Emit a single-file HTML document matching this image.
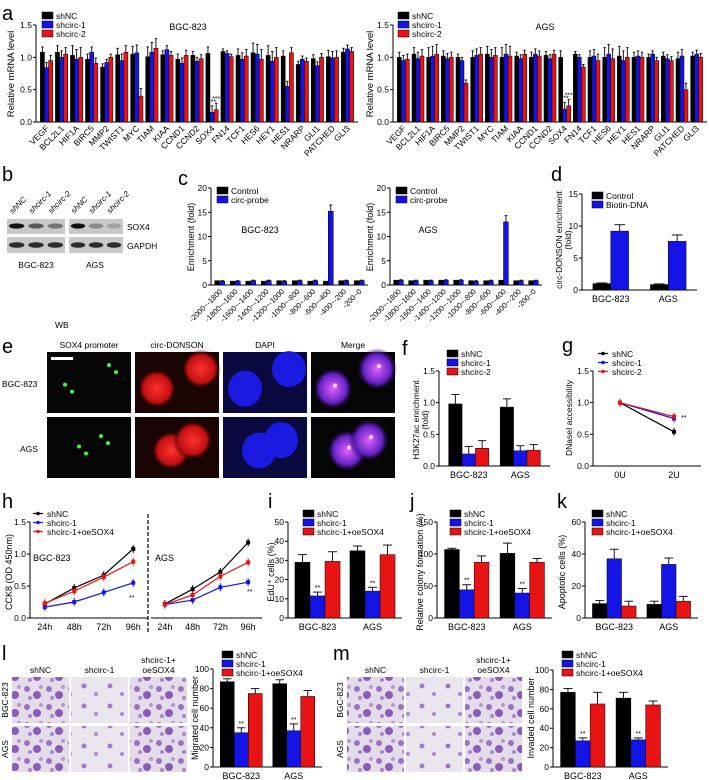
<!DOCTYPE html>
<html><head><meta charset="utf-8"><style>
body{margin:0;background:#fff;}
svg{display:block;font-family:"Liberation Sans",Arial,sans-serif;}
</style></head><body>
<svg id="fig" width="709" height="780" viewBox="0 0 709 780" xmlns="http://www.w3.org/2000/svg">
<defs>
<pattern id="stain" width="22" height="18" patternUnits="userSpaceOnUse">
<rect width="22" height="18" fill="#e4dde9"/>
<circle cx="5" cy="5" r="3" fill="#9a72c4"/><circle cx="15" cy="11" r="4" fill="#8a5cba"/><circle cx="8" cy="14" r="2" fill="#a987cc"/><circle cx="19" cy="3" r="2" fill="#b59ad2"/>
</pattern>
<pattern id="stainLight" width="26" height="20" patternUnits="userSpaceOnUse">
<rect width="26" height="20" fill="#ebe6ee"/>
<circle cx="6" cy="6" r="2.5" fill="#9f7ac8"/><circle cx="18" cy="14" r="2" fill="#a98bcf"/>
</pattern>
<radialGradient id="redBlob"><stop offset="0" stop-color="#ff3030"/><stop offset="0.7" stop-color="#c01010"/><stop offset="1" stop-color="#000" stop-opacity="0"/></radialGradient>
<radialGradient id="mergeBlob"><stop offset="0" stop-color="#e060ff"/><stop offset="0.7" stop-color="#6020c0"/><stop offset="1" stop-color="#100030" stop-opacity="0"/></radialGradient>
</defs>
</svg>
<script>
// ===== data =====
const aCats=["VEGF","BCL2L1","HIF1A","BIRC5","MMP2","TWIST1","MYC","TIAM","KIAA","CCND1","CCND2","SOX4","FN14","TCF1","HES6","HEY1","HES1","NRARP","GLI1","PATCHED","GLI3"];
const aBgcNC=[1.08,1.08,1.03,0.97,0.85,1.04,1.05,1.01,1.04,0.97,1.03,1.06,1.09,1.03,1.07,1.03,1.02,0.89,0.98,1.01,1.08];
const aBgcS1=[0.84,1.00,0.97,1.08,0.92,0.95,1.07,1.08,1.12,0.91,0.94,0.15,1.06,0.97,1.05,0.94,0.55,0.97,0.87,0.99,1.13];
const aBgcS2=[0.95,1.05,1.00,0.91,1.00,1.08,0.40,1.14,1.03,1.03,0.98,0.19,1.01,1.02,0.97,1.00,1.07,0.94,1.00,1.00,1.09];
const aAgsNC=[1.00,1.05,1.00,1.02,1.00,1.00,1.05,1.00,1.02,1.00,1.03,1.00,1.05,1.00,1.00,1.02,1.00,1.00,1.02,0.98,1.02];
const aAgsS1=[0.95,0.98,1.02,0.98,0.95,1.03,1.00,1.05,0.98,1.05,0.98,0.20,1.00,1.02,1.05,0.95,1.02,1.05,0.98,1.02,1.05];
const aAgsS2=[0.97,1.02,1.05,1.00,0.60,1.05,1.03,1.02,1.05,1.02,1.05,0.25,0.85,0.95,0.98,1.00,1.00,0.95,0.95,0.50,1.00];
const aErr=[0.08,0.1,0.15,0.08,0.05,0.1,0.12,0.15,0.06,0.08,0.06,0.1,0.04,0.1,0.15,0.15,0.08,0.05,0.06,0.1,0.06];
const aTicks=[0,0.5,1.0,1.5];
const cCats=["-2000~-1800","-1800~-1600","-1600~-1400","-1400~-1200","-1200~-1000","-1000~-800","-800~-600","-600~-400","-400~-200","-200~0"];
const cBgcCtrl=[0.9,0.8,0.8,0.8,0.9,0.9,0.8,0.8,0.9,0.9];
const cBgcProbe=[0.8,0.8,0.9,0.9,0.8,0.9,0.9,15.2,0.9,0.9];
const cAgsCtrl=[1.0,0.9,1.0,1.0,1.0,0.9,0.9,1.0,0.9,0.9];
const cAgsProbe=[1.0,0.9,0.9,1.0,1.0,0.8,0.9,13.0,0.9,0.9];
const cTicks=[0,5,10,15,20];
const grpCats=["BGC-823","AGS"];
const dCtrl=[1.0,0.85], dBio=[9.2,7.6], dCtrlE=[0.1,0.1], dBioE=[1.0,1.0];
const dTicks=[0,5,10,15];
const fNC=[0.98,0.93], fS1=[0.19,0.24], fS2=[0.28,0.25], fNCE=[0.15,0.13], fS1E=[0.12,0.08], fS2E=[0.12,0.09];
const fTicks=[0,0.5,1.0,1.5];
const gCats=["0U","2U"];
const gNC=[1.0,0.54], gS1=[1.0,0.75], gS2=[1.0,0.78];
const hCats=["24h","48h","72h","96h"];
const hBgcNC=[0.22,0.47,0.67,1.08], hBgcS1=[0.17,0.25,0.40,0.55], hBgcOE=[0.23,0.42,0.64,0.88];
const hAgsNC=[0.22,0.45,0.72,1.18], hAgsS1=[0.21,0.28,0.48,0.56], hAgsOE=[0.21,0.36,0.65,0.87];
const hTicks=[0,0.5,1.0,1.5];
const iNC=[29,35], iS1=[11.5,14], iOE=[29.5,33], iTicks=[0,10,20,30,40,50];
const jNC=[107,101], jS1=[44,39], jOE=[87,87], jTicks=[0,50,100,150];
const kNC=[9,8.5], kS1=[37,33.5], kOE=[7.5,10.5], kTicks=[0,20,40,60];
const lNC=[87,85], lS1=[35,37], lOE=[75,72], lTicks=[0,20,40,60,80,100];
const mNC=[77,71], mS1=[27,28], mOE=[65,64], mTicks=[0,20,40,60,80,100];

const BLK="#000", BLU="#1414e6", RED="#e81414";
const NS="http://www.w3.org/2000/svg";
const svg=document.getElementById("fig");
function mk(tag,attrs,parent){const e=document.createElementNS(NS,tag);for(const k in attrs)e.setAttribute(k,attrs[k]);(parent||svg).appendChild(e);return e;}
function txt(x,y,s,size,anchor,name,rot){
  const t=mk("text",{x:x,y:y,"font-size":size,"text-anchor":anchor||"start",fill:"#000"});
  if(rot!==undefined)t.setAttribute("transform","rotate("+rot+" "+x+" "+y+")");
  t.textContent=s;
  
  
  return t;
}
function axisY(x,yTop,yBot,ticks,max,fmt,name){
  const g=mk("g",{});
  
  
  mk("line",{x1:x,y1:yTop,x2:x,y2:yBot,stroke:"#000","stroke-width":1},g);
  ticks.forEach(v=>{const y=yBot-(v/max)*(yBot-yTop);
    mk("line",{x1:x-3,y1:y,x2:x,y2:y,stroke:"#000"},g);
    const t=mk("text",{x:x-4,y:y+3,"font-size":8.5,"text-anchor":"end"},g);t.textContent=fmt(v);});
  return g;
}
function legend(x,y,labels,colors,name,line){
  const g=mk("g",{});
  
  
  labels.forEach((l,i)=>{const yy=y+i*9;
    if(line){mk("line",{x1:x,y1:yy+3.5,x2:x+10,y2:yy+3.5,stroke:colors[i],"stroke-width":1.2},g);mk("circle",{cx:x+5,cy:yy+3.5,r:1.8,fill:colors[i]},g);}
    else mk("rect",{x:x,y:yy,width:11,height:7,fill:colors[i],stroke:"#000","stroke-width":0.5},g);
    const t=mk("text",{x:x+14,y:yy+7,"font-size":8.5},g);t.textContent=l;});
}
function barChart(c){
  const g=mk("g",{});
  
  
  axisY(c.x0,c.yTop,c.yBot,c.ticks,c.max,c.fmt,c.name+"-y-axis");
  mk("line",{x1:c.x0,y1:c.yBot,x2:c.x1,y2:c.yBot,stroke:"#000"},g);
  const n=c.cats.length,k=c.series.length,slot=(c.x1-c.x0-c.pad*2)/n,bw=slot*c.fill/k;
  const sy=v=>c.yBot-(v/c.max)*(c.yBot-c.yTop);
  c.cats.forEach((cat,i)=>{
    const cx=c.x0+c.pad+slot*(i+0.5);
    c.series.forEach((s,j)=>{
      const bx=cx-bw*k/2+j*bw, top=sy(s[i]);
      const e=(c.errs&&c.errs[j])?c.errs[j][i]:0;
      if(e>0){const ey=sy(s[i]+e);mk("line",{x1:bx+bw/2,y1:top,x2:bx+bw/2,y2:ey,stroke:"#000","stroke-width":0.9},g);mk("line",{x1:bx+bw/2-bw*0.3,y1:ey,x2:bx+bw/2+bw*0.3,y2:ey,stroke:"#000","stroke-width":0.9},g);}
      const r=mk("rect",{x:bx,y:top,width:bw,height:c.yBot-top,fill:c.colors[j],stroke:"#000","stroke-width":0.5},g);
      
      
      if(c.stars&&c.stars[j]&&c.stars[j][i]){const t=mk("text",{x:bx+bw/2,y:sy(s[i]+e)-2,"font-size":7,"text-anchor":"middle"},g);t.textContent=c.stars[j][i];}
    });
    if(c.rot){const t=mk("text",{x:cx+3,y:c.yBot+7,"font-size":c.lblSize||8.5,"text-anchor":"end",transform:"rotate(-45 "+(cx+3)+" "+(c.yBot+7)+")"},g);t.textContent=cat;}
    else{const t=mk("text",{x:cx,y:c.yBot+12,"font-size":9,"text-anchor":"middle"},g);t.textContent=cat;}
  });
}
function lineChart(c){
  const g=mk("g",{});
  
  
  if(c.axis)axisY(c.x0,c.yTop,c.yBot,c.ticks,c.max,c.fmt,c.name+"-y-axis");
  mk("line",{x1:c.x0,y1:c.yBot,x2:c.x1,y2:c.yBot,stroke:"#000"},g);
  const n=c.cats.length,slot=(c.x1-c.x0)/n,sy=v=>c.yBot-(v/c.max)*(c.yBot-c.yTop);
  c.cats.forEach((cat,i)=>{const t=mk("text",{x:c.x0+slot*(i+0.5),y:c.yBot+12,"font-size":9,"text-anchor":"middle"},g);t.textContent=cat;});
  c.series.forEach((s,j)=>{
    const pts=s.map((v,i)=>(c.x0+slot*(i+0.5))+","+sy(v)).join(" ");
    const p=mk("polyline",{points:pts,fill:"none",stroke:c.colors[j],"stroke-width":1.2},g);
    
    
    s.forEach((v,i)=>{const x=c.x0+slot*(i+0.5),y=sy(v);
      mk("line",{x1:x,y1:y-4,x2:x,y2:y+4,stroke:c.colors[j]},g);
      mk("rect",{x:x-2,y:y-2,width:4,height:4,fill:c.colors[j]},g);});
  });
}
const f1=v=>v.toFixed(1), f0=v=>String(v);

// ===== panel a =====
txt(2,20,"a",20,"start","panel-label-a");
legend(42,12,["shNC","shcirc-1","shcirc-2"],[BLK,BLU,RED],"legend-a-left");
legend(398,12,["shNC","shcirc-1","shcirc-2"],[BLK,BLU,RED],"legend-a-right");
txt(188,30,"BGC-823",9,"middle","title-a-bgc");
txt(545,30,"AGS",9,"middle","title-a-ags");
txt(14,74,"Relative mRNA level",9.5,"middle","y-title-a-left",-90);
txt(373,74,"Relative mRNA level",9.5,"middle","y-title-a-right",-90);
const aStars1=aCats.map(c=>c==="SOX4"?"***":"");
barChart({name:"chart-a-bgc",x0:36,x1:358,yTop:25,yBot:122,max:1.5,ticks:aTicks,fmt:f1,cats:aCats,series:[aBgcNC,aBgcS1,aBgcS2],errs:[aErr,aErr,aErr],colors:[BLK,BLU,RED],pad:3,fill:0.82,rot:true,stars:[null,aStars1,aStars1]});
barChart({name:"chart-a-ags",x0:393,x1:707,yTop:25,yBot:122,max:1.5,ticks:aTicks,fmt:f1,cats:aCats,series:[aAgsNC,aAgsS1,aAgsS2],errs:[aErr,aErr,aErr],colors:[BLK,BLU,RED],pad:3,fill:0.82,rot:true,stars:[null,aStars1,aStars1]});

// ===== panel b (western blot) =====
txt(2,181,"b",20,"start","panel-label-b");
(function(){
  const g=mk("g",{});
  
  
  const lanes=["shNC","shcirc-1","shcirc-2"];
  [[7,65],[69,123]].forEach((gx,gi)=>{
    mk("rect",{x:gx[0],y:219,width:gx[1]-gx[0],height:15,fill:"#c8c8c8"},g);
    mk("rect",{x:gx[0],y:237,width:gx[1]-gx[0],height:16,fill:"#c8c8c8"},g);
    const lw=(gx[1]-gx[0])/3;
    const sox=gi===0?[1,0.6,0.45]:[1,0.35,0.2];
    lanes.forEach((l,i)=>{const cx=gx[0]+lw*(i+0.5);
      mk("ellipse",{cx:cx,cy:226,rx:lw*0.4,ry:2.6,fill:"#111","fill-opacity":sox[i]},g);
      mk("ellipse",{cx:cx,cy:245,rx:lw*0.4,ry:2.8,fill:"#111","fill-opacity":0.85},g);
      const t=mk("text",{x:cx-4,y:214,"font-size":8,"font-style":"italic",transform:"rotate(-45 "+(cx-4)+" 214)"},g);t.textContent=l;});
  });
})();
txt(127,230,"SOX4",8.5,"start","label-sox4");
txt(127,249,"GAPDH",8.5,"start","label-gapdh");
txt(36,268,"BGC-823",8.5,"middle","label-b-bgc");
txt(95,268,"AGS",8.5,"middle","label-b-ags");
txt(55,328,"WB",8.5,"start","label-wb");

// ===== panel c =====
txt(178,185,"c",20,"start","panel-label-c");
txt(194,237,"Enrichment (fold)",9,"middle","y-title-c-left",-90);
txt(373,237,"Enrichment (fold)",9,"middle","y-title-c-right",-90);
legend(217,187,["Control","circ-probe"],[BLK,BLU],"legend-c-left");
legend(396,187,["Control","circ-probe"],[BLK,BLU],"legend-c-right");
txt(260,233,"BGC-823",9,"middle","title-c-bgc");
txt(428,233,"AGS",9,"middle","title-c-ags");
const cErrB=[0.1,0.1,0.1,0.1,0.1,0.1,0.1,1.3,0.1,0.1];
barChart({name:"chart-c-bgc",x0:211,x1:368,yTop:188,yBot:285,max:20,ticks:cTicks,fmt:f0,cats:cCats,series:[cBgcCtrl,cBgcProbe],errs:[null,cErrB],colors:[BLK,BLU],pad:1,fill:0.65,rot:true,lblSize:7.5});
barChart({name:"chart-c-ags",x0:390,x1:542,yTop:188,yBot:285,max:20,ticks:cTicks,fmt:f0,cats:cCats,series:[cAgsCtrl,cAgsProbe],errs:[null,cErrB],colors:[BLK,BLU],pad:1,fill:0.65,rot:true,lblSize:7.5});

// ===== panel d =====
txt(551,181,"d",20,"start","panel-label-d");
txt(562,240,"circ-DONSON enrichment",8.5,"middle","y-title-d",-90);
txt(571,240,"(fold)",8.5,"middle","y-title-d2",-90);
legend(592,192,["Control","Biotin-DNA"],[BLK,BLU],"legend-d");
barChart({name:"chart-d",x0:582,x1:697,yTop:194,yBot:290,max:15,ticks:dTicks,fmt:f0,cats:grpCats,series:[dCtrl,dBio],errs:[dCtrlE,dBioE],colors:[BLK,BLU],pad:0,fill:0.62});

// ===== panel e (microscopy) =====
txt(2,353,"e",20,"start","panel-label-e");
(function(){
  const cols=["SOX4 promoter","circ-DONSON","DAPI","Merge"];
  const xs=[47,135,223,311], w=84, rows=[[352,413],[417,478]];
  cols.forEach((c,i)=>txt(xs[i]+w/2,348,c,8.5,"middle","header-"+c.toLowerCase().replace(/ /g,"-")));
  txt(2,387,"BGC-823",8.5,"start","row-label-bgc");
  txt(20,452,"AGS",8.5,"start","row-label-ags");
  rows.forEach((r,ri)=>{
    xs.forEach((x,ci)=>{
      const g=mk("g",{});
      
      
      const h=r[1]-r[0];
      mk("rect",{x:x,y:r[0],width:w,height:h,fill:ci===2?"#0a0a40":ci===1?"#1a0505":"#050505"},g);
      const cells=ri===0?[[x+22,r[0]+h*0.6],[x+66,r[0]+h*0.28]]:[[x+36,r[0]+h*0.55],[x+58,r[0]+h*0.38]];
      cells.forEach(p=>{
        if(ci===1)mk("ellipse",{cx:p[0],cy:p[1],rx:20,ry:20,fill:"url(#redBlob)"},g);
        if(ci===2)mk("ellipse",{cx:p[0],cy:p[1],rx:17,ry:18,fill:"#1a1ae0"},g);
        if(ci===3)mk("ellipse",{cx:p[0],cy:p[1],rx:20,ry:21,fill:"url(#mergeBlob)"},g);
        if(ci===0){mk("circle",{cx:p[0]-4,cy:p[1]-4,r:2,fill:"#30ff40"},g);mk("circle",{cx:p[0]+3,cy:p[1]+3,r:2,fill:"#30ff40"},g);}
        if(ci===3){mk("circle",{cx:p[0]+2,cy:p[1]-3,r:2.2,fill:"#ffd0ff"},g);}
      });
      if(ci===0&&ri===0)mk("rect",{x:x+4,y:r[0]+5,width:22,height:3,fill:"#fff"},g);
    });
  });
})();

// ===== panel f =====
txt(402,355,"f",20,"start","panel-label-f");
txt(419,420,"H3K27ac enrichment",8.5,"middle","y-title-f",-90);
txt(428,420,"(fold)",8.5,"middle","y-title-f2",-90);
legend(447,350,["shNC","shcirc-1","shcirc-2"],[BLK,BLU,RED],"legend-f");
barChart({name:"chart-f",x0:439,x1:550,yTop:371,yBot:466,max:1.5,ticks:fTicks,fmt:f1,cats:grpCats,series:[fNC,fS1,fS2],errs:[fNCE,fS1E,fS2E],colors:[BLK,BLU,RED],pad:4,fill:0.78});

// ===== panel g =====
txt(562,352,"g",20,"start","panel-label-g");
txt(572,418,"DNaseI accessibility",8.5,"middle","y-title-g",-90);
legend(598,350,["shNC","shcirc-1","shcirc-2"],[BLK,BLU,RED],"legend-g",true);
lineChart({name:"chart-g",axis:true,x0:593,x1:701,yTop:371,yBot:466,max:1.5,ticks:fTicks,fmt:f1,cats:gCats,series:[gNC,gS1,gS2],colors:[BLK,BLU,RED]});
txt(681,420,"**",7,"start","g-significance");

// ===== panel h =====
txt(2,508,"h",20,"start","panel-label-h");
txt(12,572,"CCK8 (OD 450nm)",9,"middle","y-title-h",-90);
legend(33,510,["shNC","shcirc-1","shcirc-1+oeSOX4"],[BLK,BLU,RED],"legend-h",true);
lineChart({name:"chart-h-bgc",axis:true,x0:30,x1:148,yTop:522,yBot:618,max:1.5,ticks:hTicks,fmt:f1,cats:hCats,series:[hBgcNC,hBgcS1,hBgcOE],colors:[BLK,BLU,RED]});
lineChart({name:"chart-h-ags",axis:false,x0:151,x1:262,yTop:522,yBot:618,max:1.5,ticks:hTicks,fmt:f1,cats:hCats,series:[hAgsNC,hAgsS1,hAgsOE],colors:[BLK,BLU,RED]});
(function(){const l=mk("line",{x1:148,y1:514,x2:148,y2:633,stroke:"#000","stroke-dasharray":"4,2","stroke-width":1.2});

})();
txt(33,561,"BGC-823",9,"start","h-title-bgc");
txt(155,561,"AGS",9,"start","h-title-ags");
txt(129,600,"**",7,"start","h-sig-bgc");
txt(247,594,"**",7,"start","h-sig-ags");

// ===== panel i =====
txt(268,508,"i",20,"start","panel-label-i");
txt(274,572,"EdU⁺ cells (%)",9,"middle","y-title-i",-90);
legend(303,510,["shNC","shcirc-1","shcirc-1+oeSOX4"],[BLK,BLU,RED],"legend-i");
barChart({name:"chart-i",x0:288,x1:402,yTop:522,yBot:618,max:50,ticks:iTicks,fmt:f0,cats:grpCats,series:[iNC,iS1,iOE],errs:[[4,2.5],[2,2],[5,5]],colors:[BLK,BLU,RED],pad:2,fill:0.82,stars:[null,["**","**"],null]});

// ===== panel j =====
txt(410,508,"j",20,"start","panel-label-j");
txt(423,572,"Relative colony formation (%)",9,"middle","y-title-j",-90);
legend(450,510,["shNC","shcirc-1","shcirc-1+oeSOX4"],[BLK,BLU,RED],"legend-j");
barChart({name:"chart-j",x0:437,x1:552,yTop:522,yBot:618,max:150,ticks:jTicks,fmt:f0,cats:grpCats,series:[jNC,jS1,jOE],errs:[[2,16],[8,7],[10,6]],colors:[BLK,BLU,RED],pad:2,fill:0.8,stars:[null,["**","**"],null]});

// ===== panel k =====
txt(557,508,"k",20,"start","panel-label-k");
txt(565,572,"Apoptotic cells (%)",9,"middle","y-title-k",-90);
legend(592,510,["shNC","shcirc-1","shcirc-1+oeSOX4"],[BLK,BLU,RED],"legend-k");
barChart({name:"chart-k",x0:585,x1:698,yTop:522,yBot:618,max:60,ticks:kTicks,fmt:f0,cats:grpCats,series:[kNC,kS1,kOE],errs:[[2,2],[6,4],[3,3]],colors:[BLK,BLU,RED],pad:2,fill:0.8});

// ===== panels l, m (transwell images + bars) =====
function transwell(x0,letter,lx){
  txt(lx,660,letter,20,"start","panel-label-"+letter);
  const w=57,xs=[x0,x0+59,x0+118],rows=[[677,723],[726,772]];
  txt(xs[0]+w/2,673,"shNC",8.5,"middle","header-"+letter+"-shnc");
  txt(xs[1]+w/2,673,"shcirc-1",8.5,"middle","header-"+letter+"-shcirc1");
  txt(xs[2]+w/2,663,"shcirc-1+",8.5,"middle","header-"+letter+"-oe1");
  txt(xs[2]+w/2,673,"oeSOX4",8.5,"middle","header-"+letter+"-oe2");
  txt(x0-4,700,"BGC-823",8.5,"middle","row-"+letter+"-bgc",-90);
  txt(x0-4,749,"AGS",8.5,"middle","row-"+letter+"-ags",-90);
  rows.forEach((r,ri)=>xs.forEach((x,ci)=>{
    const rr=mk("rect",{x:x,y:r[0],width:w,height:r[1]-r[0],fill:ci===1?"url(#stainLight)":"url(#stain)"});
    
    
  }));
}
transwell(12,"l",2);
transwell(347,"m",333);
txt(198,718,"Migrated cell number",9,"middle","y-title-l",-90);
legend(222,651,["shNC","shcirc-1","shcirc-1+oeSOX4"],[BLK,BLU,RED],"legend-l");
barChart({name:"chart-l",x0:213,x1:322,yTop:669,yBot:767,max:100,ticks:lTicks,fmt:f0,cats:grpCats,series:[lNC,lS1,lOE],errs:[[3,4],[5,7],[5,6]],colors:[BLK,BLU,RED],pad:2,fill:0.8,stars:[null,["**","**"],null]});
txt(534,718,"Invaded cell number",9,"middle","y-title-m",-90);
legend(562,651,["shNC","shcirc-1","shcirc-1+oeSOX4"],[BLK,BLU,RED],"legend-m");
barChart({name:"chart-m",x0:553,x1:668,yTop:670,yBot:767,max:100,ticks:mTicks,fmt:f0,cats:grpCats,series:[mNC,mS1,mOE],errs:[[4,6],[3,2],[12,4]],colors:[BLK,BLU,RED],pad:2,fill:0.8,stars:[null,["**","**"],null]});
</script>
</body></html>
